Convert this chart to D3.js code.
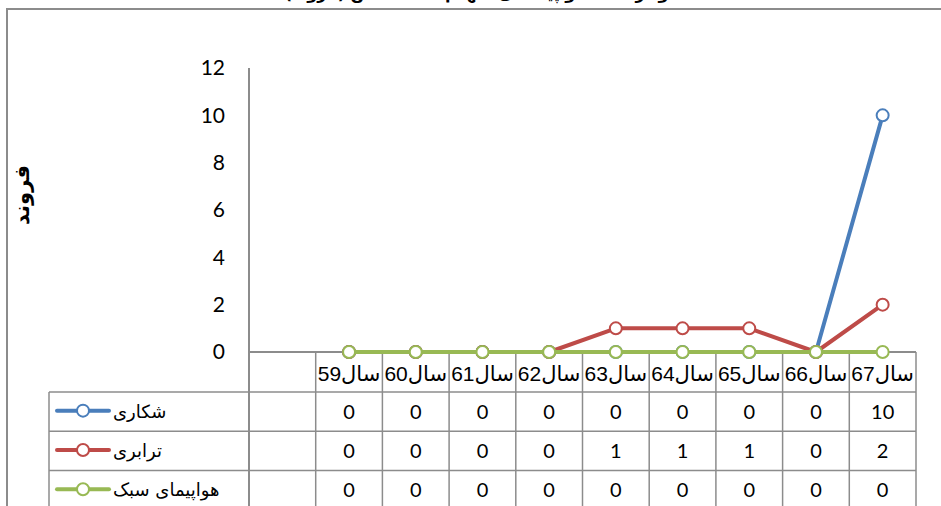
<!DOCTYPE html>
<html>
<head>
<meta charset="utf-8">
<script src="https://cdn.jsdelivr.net/npm/d3@7"></script>
<style>
  body { margin: 0; background: #fff; }
  svg text { font-family: Lato, "DejaVu Sans", sans-serif; }
</style>
</head>
<body>
<div id="chart"></div>
<script>
// data
var categories = ["", "سال59", "سال60", "سال61", "سال62", "سال63", "سال64", "سال65", "سال66", "سال67"];
var seriesNames = ["شکاری", "ترابری", "هواپیمای سبک"];
var fighter = [null, 0, 0, 0, 0, 0, 0, 0, 0, 10];
var transport = [null, 0, 0, 0, 0, 1, 1, 1, 0, 2];
var light = [null, 0, 0, 0, 0, 0, 0, 0, 0, 0];
var yTicks = [0, 2, 4, 6, 8, 10, 12];
var colors = ["#4a7ebb", "#be4b48", "#98b954"];

var W = 941, H = 506;
var margin = {left: 249, right: 25, top: 68};
var plotBottom = 352;
var rowH = 39.3;

var svg = d3.select("#chart").append("svg")
    .attr("width", W).attr("height", H);

var x = d3.scaleBand()
    .domain(categories)
    .range([margin.left, W - margin.right]);
var y = d3.scaleLinear()
    .domain([0, 12])
    .range([plotBottom, margin.top]);

var grey = "#8c8c8c";

// outer border
svg.append("path")
    .attr("d", "M7," + H + "V9H" + W)
    .attr("fill", "none").attr("stroke", grey).attr("stroke-width", 2);

// title (mostly out of frame, as in the source)
svg.append("text")
    .attr("x", 485).attr("y", -1)
    .attr("text-anchor", "middle")
    .style("font-family", "'DejaVu Sans', sans-serif")
    .style("font-weight", "bold").style("font-size", "16px")
    .text("نمودار تعداد هواپیماهای منهدم شده دشمن (فروند)");

// y axis label
svg.append("text")
    .attr("transform", "translate(29,195) rotate(-90)")
    .attr("text-anchor", "middle")
    .style("font-family", "'DejaVu Sans', sans-serif")
    .style("font-weight", "bold").style("font-size", "21px")
    .text("فروند");

// y axis
var yAxis = d3.axisLeft(y).tickValues(yTicks).tickSize(0).tickPadding(24);
var gy = svg.append("g")
    .attr("transform", "translate(" + margin.left + ",0)")
    .call(yAxis);
gy.select(".domain").remove();
gy.selectAll("text")
    .style("font-family", "Lato, sans-serif")
    .style("font-size", "21px").attr("fill", "#000");

var tableRows = seriesNames.length;
var tableBottom = plotBottom + rowH * (tableRows + 1) + 20;

// axis vertical line (runs through table)
svg.append("line")
    .attr("x1", margin.left).attr("x2", margin.left)
    .attr("y1", margin.top).attr("y2", tableBottom)
    .attr("stroke", grey).attr("stroke-width", 2);

// zero line
svg.append("line")
    .attr("x1", margin.left).attr("x2", x.range()[1])
    .attr("y1", y(0)).attr("y2", y(0))
    .attr("stroke", grey).attr("stroke-width", 2);

// table grid: category separators
var legendLeft = 49;
categories.forEach(function(c, i) {
    if (i === 0) return;
    svg.append("line")
        .attr("x1", x(c)).attr("x2", x(c))
        .attr("y1", y(0)).attr("y2", tableBottom)
        .attr("stroke", grey).attr("stroke-width", 1.5);
});
svg.append("line")
    .attr("x1", x.range()[1]).attr("x2", x.range()[1])
    .attr("y1", y(0)).attr("y2", tableBottom)
    .attr("stroke", grey).attr("stroke-width", 1.5);
svg.append("line")
    .attr("x1", legendLeft).attr("x2", legendLeft)
    .attr("y1", plotBottom + 40).attr("y2", tableBottom)
    .attr("stroke", grey).attr("stroke-width", 1.5);

// horizontal table lines
for (var r = 0; r < tableRows; r++) {
    var yy = plotBottom + 40 + r * rowH;
    svg.append("line")
        .attr("x1", legendLeft).attr("x2", x.range()[1])
        .attr("y1", yy).attr("y2", yy)
        .attr("stroke", grey).attr("stroke-width", 1.5);
}

// category header labels
svg.selectAll(".cat")
    .data(categories.slice(1))
    .enter().append("text")
    .attr("class", "cat")
    .attr("x", function(d) { return x(d) + x.bandwidth() / 2; })
    .attr("y", plotBottom + 29)
    .attr("text-anchor", "middle")
    .style("font-family", "'Liberation Sans', 'DejaVu Sans', sans-serif")
    .style("font-size", "21px")
    .text(function(d) { return d; });

var allSeries = [fighter, transport, light];

// table rows: legend key + values
allSeries.forEach(function(vals, s) {
    var top = plotBottom + 40 + s * rowH;
    var cy = top + rowH / 2;
    svg.append("line")
        .attr("x1", 57).attr("x2", 109)
        .attr("y1", cy - 1).attr("y2", cy - 1)
        .attr("stroke", colors[s]).attr("stroke-width", 4)
        .attr("stroke-linecap", "round");
    svg.append("circle")
        .attr("cx", 83).attr("cy", cy - 1).attr("r", 6)
        .attr("fill", "#fff").attr("stroke", colors[s]).attr("stroke-width", 2);
    svg.append("text")
        .attr("x", 113).attr("y", cy + 6)
        .attr("text-anchor", "start")
        .style("font-family", "'DejaVu Sans', sans-serif")
        .style("font-size", "18px")
        .text(seriesNames[s]);
    svg.selectAll(".v" + s)
        .data(vals.map(function(v, i) { return {v: v, c: categories[i]}; })
                  .filter(function(d) { return d.v !== null; }))
        .enter().append("text")
        .attr("x", function(d) { return x(d.c) + x.bandwidth() / 2; })
        .attr("y", cy + 7)
        .attr("text-anchor", "middle")
        .style("font-size", "20px")
        .text(function(d) { return d.v; });
});

// lines + markers
var line = d3.line()
    .defined(function(d) { return d.v !== null; })
    .x(function(d) { return x(d.c) + x.bandwidth() / 2; })
    .y(function(d) { return y(d.v); });

allSeries.forEach(function(vals, s) {
    var pts = vals.map(function(v, i) { return {v: v, c: categories[i]}; });
    svg.append("path")
        .datum(pts)
        .attr("d", line)
        .attr("fill", "none")
        .attr("stroke", colors[s])
        .attr("stroke-width", 4)
        .attr("stroke-linejoin", "round");
    svg.selectAll(".m" + s)
        .data(pts.filter(function(d) { return d.v !== null; }))
        .enter().append("circle")
        .attr("cx", function(d) { return x(d.c) + x.bandwidth() / 2; })
        .attr("cy", function(d) { return y(d.v); })
        .attr("r", 6)
        .attr("fill", "#fff")
        .attr("stroke", colors[s])
        .attr("stroke-width", 2);
});
</script>
</body>
</html>
